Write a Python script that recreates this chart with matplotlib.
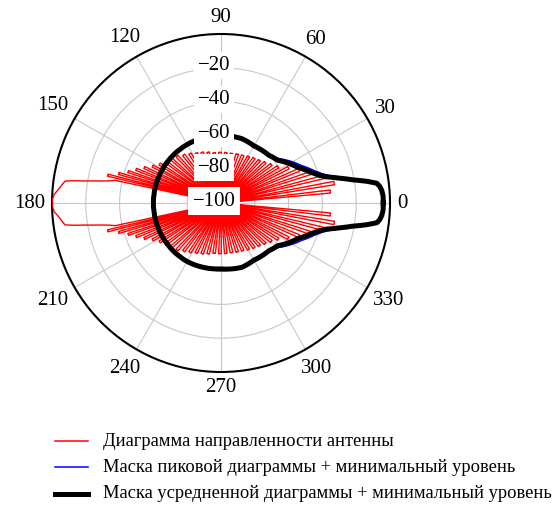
import numpy as np
import matplotlib
matplotlib.use('Agg')
import matplotlib.pyplot as plt
from matplotlib.lines import Line2D

plt.rcParams['font.family'] = ['Liberation Serif', 'DejaVu Serif']
plt.rcParams['path.simplify'] = False

# ---- data (angles in degrees, levels in dB) ----
# side lobes of the antenna pattern, upper half: centre angle, angular width, level
lobe_up_c = [6.0, 10.0, 14.2, 18.5, 23.0, 27.6, 32.4, 37.4, 42.6, 48.0, 53.6, 59.4, 65.4,
             71.6, 78.0, 84.6, 91.2, 97.8, 104.2, 110.4, 116.4, 122.2, 127.8, 133.2, 138.4,
             143.2, 147.6, 151.6, 155.2, 158.4, 161.3, 163.9, 166.2]
lobe_up_w = [1.6, 1.7, 1.8, 1.9, 2.0, 2.1, 2.2, 2.3, 2.4, 2.5, 2.6, 2.7, 2.8,
             2.9, 3.0, 3.0, 3.0, 2.9, 2.8, 2.7, 2.6, 2.5, 2.4, 2.3, 2.1,
             2.0, 1.8, 1.6, 1.5, 1.4, 1.2, 1.1, 1.0]
lobe_up_db = [-35, -32, -37, -44, -50, -55, -60, -62.5, -64.5, -66, -67, -68, -69,
              -69.5, -70, -70, -70, -70, -69, -68, -67, -65.5, -64, -62, -60.5,
              -59, -57, -54, -50, -46, -42, -37, -31]
# main lobe
main_deg = [167.9, 167.9, 168.7, 169.44, 170.1, 170.8, 171.4, 172.0, 173.5, 175.4, 177.0, 178.6,
            180, 181.4, 183.0, 184.6, 186.5, 188.0, 188.6, 189.2, 189.9, 190.56, 191.3, 192.1,
            192.1]
main_db = [-100, -36, -33, -29, -24, -18.5, -12, -6.8, -5.3, -3.3, -1.2, -0.3,
           0, -0.3, -1.2, -3.3, -5.3, -6.8, -12, -18.5, -24, -29, -33, -36,
           -100]
# side lobes, lower half
lobe_lo_c = [193.8, 196.1, 198.7, 201.6, 204.8, 208.4, 212.4, 216.8, 221.6, 226.8, 232.2,
             237.8, 243.6, 249.6, 255.8, 262.2, 268.8, 275.4, 282.0, 288.4, 294.6, 300.6,
             306.4, 312.0, 317.4, 322.6, 327.6, 332.4, 337.0, 341.5, 345.8, 350.0, 354.0]
lobe_lo_w = [1.0, 1.1, 1.2, 1.4, 1.5, 1.6, 1.8, 2.0, 2.1, 2.3, 2.4,
             2.5, 2.6, 2.7, 2.8, 2.9, 3.0, 3.0, 3.0, 2.9, 2.8, 2.7,
             2.6, 2.5, 2.4, 2.3, 2.2, 2.1, 2.0, 1.9, 1.8, 1.7, 1.6]
lobe_lo_db = [-31, -37, -42, -46, -50, -54, -57, -59, -60.5, -62, -64,
              -65.5, -67, -68, -69, -70, -70, -70, -70, -69.5, -69, -68,
              -67, -66, -64.5, -62.5, -60, -55, -50, -44, -37, -32, -35]

peak_mask_deg = [0, 3, 5, 7, 8.5, 10, 12, 14, 16, 19, 25, 31, 37, 42, 45, 90, 135, 180, 225, 270,
                 315, 318, 323, 329, 335, 341, 344, 346, 348, 350, 351.5, 353, 355, 357, 360]
peak_mask_db = [-4, -4, -5, -7, -13, -21, -27, -33.5, -37.5, -41.5, -47.5, -52, -56.5, -59.5, -60,
                -60, -60, -60, -60, -60, -60, -59.5, -56.5, -52, -47.5, -41.5, -37.5, -33.5, -27,
                -21, -13, -7, -5, -4, -4]

avg_mask_deg = [0, 2.5, 4.5, 6, 7.2, 8.5, 10, 12, 14, 16, 19, 25, 31, 37, 45, 60, 72, 90, 120, 150,
                180, 210, 240, 270, 288, 300, 315, 323, 329, 335, 341, 344, 346, 348, 350, 351.5,
                352.8, 354, 355.5, 357.5, 360]
avg_mask_db = [-4, -4, -4.6, -5.6, -7, -13, -21, -29, -36, -40, -44, -50, -54, -58, -60, -61, -60,
               -60, -60, -60, -60, -60, -60, -61, -60, -61, -60, -58, -54, -50, -44, -40, -36, -29,
               -21, -13, -7, -5.6, -4.6, -4, -4]

theta_ticks = [0, 30, 60, 90, 120, 150, 180, 210, 240, 270, 300, 330]
r_ticks = [-100, -80, -60, -40, -20]
r_labels = ['\u2212100', '\u221280', '\u221260', '\u221240', '\u221220']
legend_labels = ['Диаграмма направленности антенны',
                 'Маска пиковой диаграммы + минимальный уровень',
                 'Маска усредненной диаграммы + минимальный уровень']

R_MIN = r_ticks[0]


def lobe_vertices(cen, wid, db):
    th, rr = [], []
    for c, w, v in zip(cen, wid, db):
        th += [c - w / 2, c - w / 2, c + w / 2, c + w / 2]
        rr += [R_MIN, v, v, R_MIN]
    return th, rr


t1, r1 = lobe_vertices(lobe_up_c, lobe_up_w, lobe_up_db)
t3, r3 = lobe_vertices(lobe_lo_c, lobe_lo_w, lobe_lo_db)
red_deg = [0] + t1 + main_deg + t3 + [360]
red_db = [R_MIN] + r1 + main_db + r3 + [R_MIN]

# ---- figure ----
W, H = 557, 509
fig = plt.figure(figsize=(W / 100, H / 100), dpi=100)
fig.patch.set_facecolor('white')
ax = fig.add_axes([52 / W, 137 / H, 338 / W, 338 / H], projection='polar')
ax.set_theta_zero_location('E')
ax.set_theta_direction(1)
ax.set_ylim(-100, 0)
ax.set_yticks(r_ticks[1:])
ax.set_yticklabels([])
ax.set_xticks(np.deg2rad(theta_ticks))
ax.set_xticklabels([])
ax.tick_params(length=0)
ax.grid(True, color='#c8c8c8', linewidth=0.8)
ax.spines['polar'].set_linewidth(1.5)
ax.spines['polar'].set_color('black')

l1, = ax.plot(np.deg2rad(red_deg), red_db, color='#ff0000', lw=1.0, zorder=3)
l2, = ax.plot(np.deg2rad(peak_mask_deg), peak_mask_db, color='#0000ff', lw=1.1, zorder=4)
l3, = ax.plot(np.deg2rad(avg_mask_deg), avg_mask_db, color='black', lw=3.6, zorder=5)
for ln in (l1, l2, l3):
    ln.get_path()._interpolation_steps = 8

# theta labels
for deg in theta_ticks:
    th = np.deg2rad(deg)
    s = str(deg)
    hw = 5.2 * len(s)
    hh = 9
    c, sn = np.cos(th), np.sin(th)
    d = 7 + abs(c) * hw + abs(sn) * hh
    ax.annotate(s, xy=(th, 0), xytext=(d * c, d * sn), textcoords='offset pixels',
                ha='center', va='center', fontsize=15, annotation_clip=False)

# radial labels
for r, s in zip(r_ticks, r_labels):
    ax.annotate(s, xy=(np.pi / 2, r), xytext=(-7, 2), textcoords='offset pixels',
                ha='center', va='center', fontsize=15, zorder=8,
                bbox=dict(boxstyle='square,pad=0.2', fc='white', ec='none'))

# legend
colors = ['#ff0000', '#0000ff', 'black']
widths = [1.1, 1.1, 3.6]
rows_y = [441, 467, 494]
for lab, col, lw, y in zip(legend_labels, colors, widths, rows_y):
    yf = 1 - y / H
    fig.add_artist(Line2D([55 / W, 88 / W], [yf, yf], color=col, lw=lw))
    fig.text(103 / W, yf, lab, ha='left', va='center', fontsize=13.3)

fig.savefig('out.png', dpi=100, facecolor='white')
